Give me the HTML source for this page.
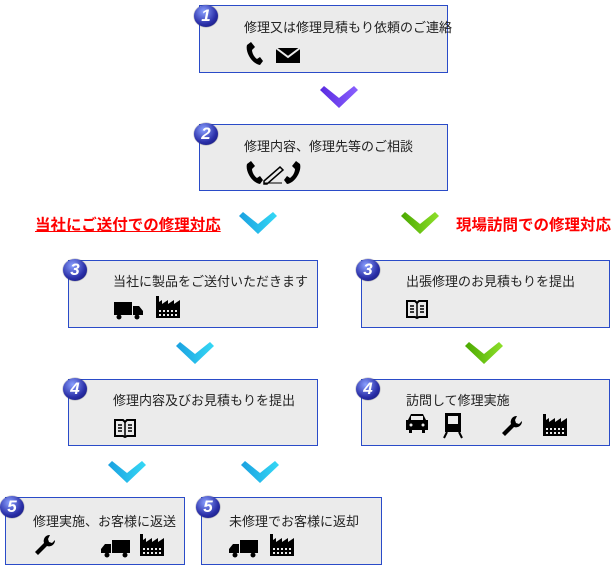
<!DOCTYPE html>
<html><head><meta charset="utf-8"><style>
body{margin:0;width:614px;height:566px;background:#fff;position:relative;overflow:hidden;font-family:"Liberation Sans","Noto Sans CJK JP",sans-serif;}
.b{position:absolute;background:#ebebeb;border:1px solid #2a4bc8;box-sizing:border-box;}
.t{position:absolute;font-size:13px;color:#222;white-space:nowrap;}
.n{position:absolute;width:24px;height:22px;border-radius:50%;background:radial-gradient(circle at 40% 30%,#8aa0ff,#2a2fa8 60%,#10126a);color:#fff;font:italic bold 17px/22px "Liberation Sans",sans-serif;text-align:center;box-shadow:0 0 1px #223;}
svg.i{position:absolute}
.lab{position:absolute;font-size:15.5px;font-weight:bold;white-space:nowrap;}
</style></head><body>
<svg width="0" height="0" style="position:absolute"><defs>
<g id="chev"><polygon points="0,4 4,0 19,12 34,0 38,4 19,22" /></g>
<g id="truck"><rect x="0" y="2" width="18" height="13"/><path d="M19 6h6l4 5v4h-10z"/><circle cx="5" cy="17" r="2.5"/><circle cx="23" cy="17" r="2.5"/></g>
<g id="fact"><rect x="0" y="0" width="3" height="8"/><path d="M0 8l6-4v4l6-4v4l6-4v4l6-4v18H0z"/><g fill="#ebebeb"><rect x="3" y="14" width="2" height="2"/><rect x="7" y="14" width="2" height="2"/><rect x="11" y="14" width="2" height="2"/><rect x="15" y="14" width="2" height="2"/><rect x="19" y="14" width="2" height="2"/><rect x="3" y="18" width="2" height="2"/><rect x="7" y="18" width="2" height="2"/><rect x="11" y="18" width="2" height="2"/><rect x="15" y="18" width="2" height="2"/><rect x="19" y="18" width="2" height="2"/></g></g>
<g id="book"><path d="M1 2h8l2 2 2-2h8v16h-8l-2 1-2-1H1z" fill="none" stroke="#000" stroke-width="2"/><path d="M11 4v15M4 7h4M4 10h4M4 13h4M14 7h4M14 10h4M14 13h4" stroke="#000" stroke-width="1.5"/></g>
<g id="phone"><path d="M7 0l4 5-3 3c0 3 2 7 5 9l3-2 3 4-3 4C8 22 1 10 3 3z"/></g>
<g id="wrench"><path d="M16 1a6 6 0 0 0-6 8L1 18l3 3 9-9a6 6 0 0 0 8-6l-3 3-3-1-1-3z"/></g>
<linearGradient id="gb" x1="0" x2="1"><stop offset="0" stop-color="#1aa0e0"/><stop offset="1" stop-color="#35d8f5"/></linearGradient>
<linearGradient id="gp" x1="0" x2="1"><stop offset="0" stop-color="#5a2be0"/><stop offset="1" stop-color="#8a60ff"/></linearGradient>
<linearGradient id="gg" x1="0" x2="1"><stop offset="0" stop-color="#4aa800"/><stop offset="1" stop-color="#8ee02a"/></linearGradient>
</defs></svg>

<svg class="i" style="left:320px;top:86px" width="38" height="22"><use href="#chev" fill="url(#gp)"/></svg>
<svg class="i" style="left:239px;top:212px" width="38" height="22"><use href="#chev" fill="url(#gb)"/></svg>
<svg class="i" style="left:401px;top:212px" width="38" height="22"><use href="#chev" fill="url(#gg)"/></svg>
<svg class="i" style="left:176px;top:342px" width="38" height="22"><use href="#chev" fill="url(#gb)"/></svg>
<svg class="i" style="left:465px;top:342px" width="38" height="22"><use href="#chev" fill="url(#gg)"/></svg>
<svg class="i" style="left:108px;top:461px" width="38" height="22"><use href="#chev" fill="url(#gb)"/></svg>
<svg class="i" style="left:241px;top:461px" width="38" height="22"><use href="#chev" fill="url(#gb)"/></svg>

<div class="lab" style="left:35px;top:213px;color:#f00;text-decoration:underline;">当社にご送付での修理対応</div>
<div class="lab" style="left:456px;top:213px;color:#f00;">現場訪問での修理対応</div>

<div class="b" style="left:199px;top:5px;width:249px;height:68px"></div>
<div class="n" style="left:194px;top:5px">1</div>
<div class="t" style="left:244px;top:17px">修理又は修理見積もり依頼のご連絡</div>
<svg class="i" style="left:244px;top:42px" width="60" height="24"><use href="#phone"/><path d="M32 6h24v15H32z"/><path d="M32 6l12 9 12-9" fill="none" stroke="#ebebeb" stroke-width="2"/></svg>

<div class="b" style="left:199px;top:124px;width:249px;height:67px"></div>
<div class="n" style="left:194px;top:123px">2</div>
<div class="t" style="left:244px;top:136px">修理内容、修理先等のご相談</div>
<svg class="i" style="left:244px;top:161px" width="60" height="24"><use href="#phone"/><path d="M20 20l16-14 3 3-16 14h-3z" fill="none" stroke="#000" stroke-width="1.5"/><path d="M20 22h18" stroke="#000"/><use href="#phone" transform="translate(59,0) scale(-1,1)"/></svg>

<div class="b" style="left:68px;top:260px;width:250px;height:68px"></div>
<div class="n" style="left:63px;top:259px">3</div>
<div class="t" style="left:113px;top:271px">当社に製品をご送付いただきます</div>
<svg class="i" style="left:114px;top:296px" width="70" height="26"><use href="#truck" transform="translate(0,4)"/><use href="#fact" transform="translate(42,0)"/></svg>

<div class="b" style="left:361px;top:260px;width:249px;height:68px"></div>
<div class="n" style="left:356px;top:259px">3</div>
<div class="t" style="left:406px;top:271px">出張修理のお見積もりを提出</div>
<svg class="i" style="left:406px;top:299px" width="24" height="22"><use href="#book"/></svg>

<div class="b" style="left:68px;top:379px;width:250px;height:67px"></div>
<div class="n" style="left:63px;top:378px">4</div>
<div class="t" style="left:113px;top:390px">修理内容及びお見積もりを提出</div>
<svg class="i" style="left:114px;top:418px" width="24" height="22"><use href="#book"/></svg>

<div class="b" style="left:361px;top:379px;width:249px;height:67px"></div>
<div class="n" style="left:356px;top:378px">4</div>
<div class="t" style="left:406px;top:390px">訪問して修理実施</div>
<svg class="i" style="left:405px;top:412px" width="170" height="28"><path d="M3 8l3-6h12l3 6h2v10h-3v3h-3v-3H7v3H4v-3H1V8z"/><rect x="6" y="4" width="12" height="4" fill="#ebebeb"/><circle cx="6" cy="13" r="1.5" fill="#ebebeb"/><circle cx="18" cy="13" r="1.5" fill="#ebebeb"/>
<path d="M40 1h16v19H40z"/><rect x="43" y="4" width="10" height="8" fill="#ebebeb"/><path d="M42 20l-3 6M54 20l3 6" stroke="#000" stroke-width="2"/>
<use href="#wrench" transform="translate(96,3)"/><use href="#fact" transform="translate(138,2)"/></svg>

<div class="b" style="left:5px;top:497px;width:180px;height:68px"></div>
<div class="n" style="left:0px;top:496px">5</div>
<div class="t" style="left:33px;top:511px">修理実施、お客様に返送</div>
<svg class="i" style="left:34px;top:532px" width="140" height="28"><use href="#wrench" transform="translate(0,2)"/><use href="#truck" transform="translate(96,6) scale(-1,1)"/><use href="#fact" transform="translate(106,2)"/></svg>

<div class="b" style="left:201px;top:497px;width:181px;height:68px"></div>
<div class="n" style="left:196px;top:496px">5</div>
<div class="t" style="left:229px;top:511px">未修理でお客様に返却</div>
<svg class="i" style="left:229px;top:532px" width="80" height="28"><use href="#truck" transform="translate(29,6) scale(-1,1)"/><use href="#fact" transform="translate(41,2)"/></svg>
</body></html>
